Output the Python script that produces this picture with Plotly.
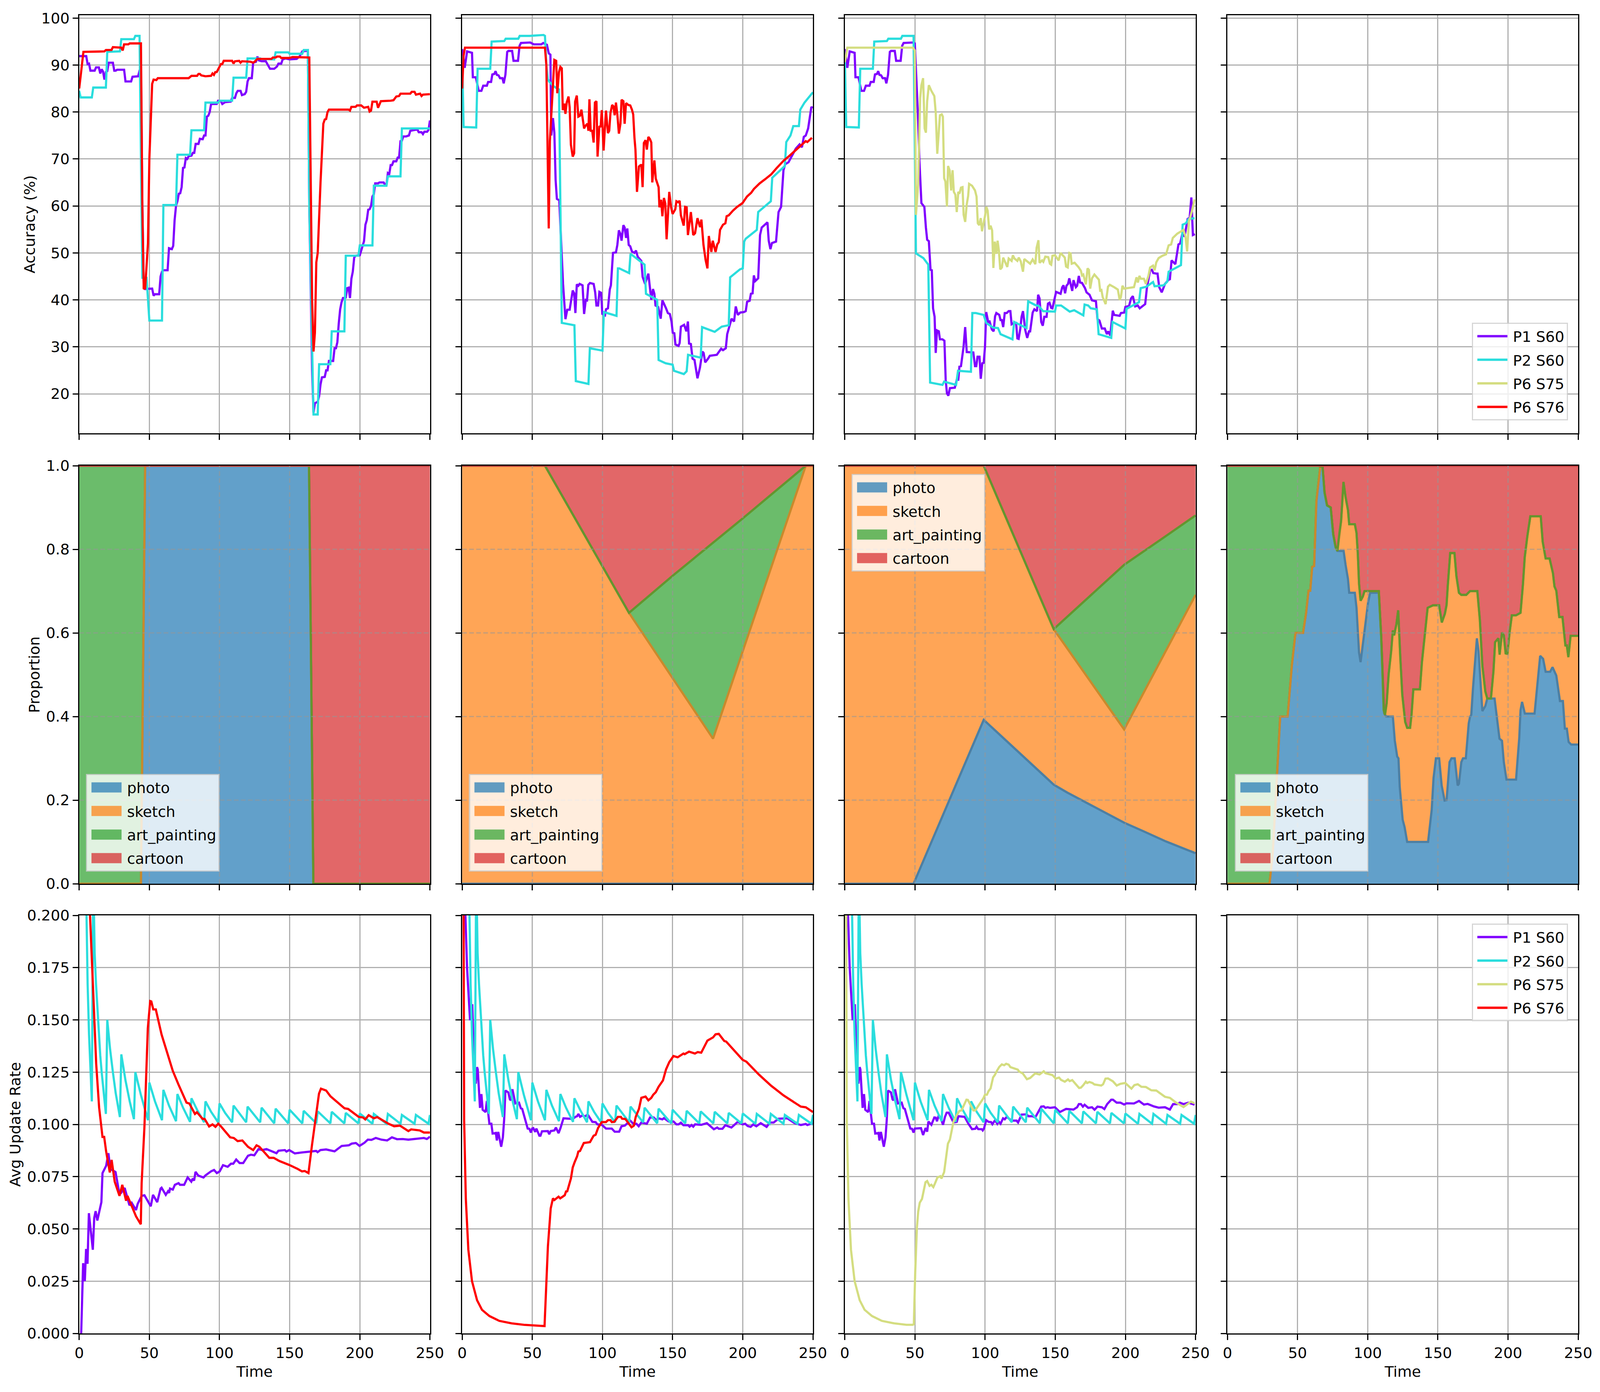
import plotly.graph_objects as go

TIME_TICKS = [0, 50, 100, 150, 200, 250]
ACC_TICKS = [20, 30, 40, 50, 60, 70, 80, 90, 100]
PROP_TICKS = [0.0, 0.2, 0.4, 0.6, 0.8, 1.0]
RATE_TICKS = [0, 0.025, 0.05, 0.075, 0.1, 0.125, 0.15, 0.175, 0.2]
SERIES_NAMES = ["P1 S60", "P2 S60", "P6 S75", "P6 S76"]
DOMAIN_NAMES = ["photo", "sketch", "art_painting", "cartoon"]

# ---------- Accuracy, scenario A ----------
acc_p1_a = [(0,91.9),(5,91.9),(6,90.2),(7,90.3),(8,88.8),(11,88.8),(12,89.5),(14,89.5),(15,88.2),(16,89.1),(17,88.6),(18,86.9),(19,88.5),(20,88.7),(21,90.5),(24,90.5),(25,88.8),(26,88.8),(27,89),(32,89),(33,86.5),(37,86.5),(38,87.5),(42,87.6),(43,88.8),(44,88.8),(45,60),(46,42.6),(47,42.3),(52,42.4),(53,40.9),(54,41.2),(57,41.2),(58,45),(59,46),(60,46.3),(63,46.3),(64,51),(66,50.8),(67,51.5),(68,57),(69,60),(70,61),(71,62.6),(72,62.7),(73,64),(74,68.1),(75,68.2),(76,70.2),(77,70),(78,70.6),(80,70.7),(81,71.3),(82,71.3),(83,73.2),(85,73.2),(86,74.3),(88,74.2),(89,75),(90,75),(91,79),(92,79.2),(93,80),(94,81.7),(98,81.7),(99,82.4),(101,82.3),(102,81.7),(104,82.1),(108,82.2),(109,83),(111,83),(112,84),(113,84.5),(115,84.5),(116,83.6),(118,83.8),(119,84.3),(120,86.5),(121,87.2),(123,87.2),(124,90.5),(126,90.7),(127,91.8),(128,91),(130,90.8),(133,90.8),(134,90.2),(136,89.2),(139,89.2),(141,89.7),(142,90.3),(144,90.3),(145,91.2),(147,91.4),(150,91.2),(155,91.3),(157,91.8),(159,92.9),(162,93),(163,93.1),(164,60),(166,25),(167,16),(168,18),(170,18.3),(171,19.5),(172,22),(173,23.5),(175,23.6),(176,25),(177,25),(178,27),(181,27),(182,29.7),(183,29.7),(184,31),(185,35),(186,38),(187,39.5),(188,40.4),(190,40.5),(191,42.5),(192,42.6),(193,40.4),(194,44.5),(195,46),(196,49),(197,49.4),(200,49.5),(201,50.5),(202,51.5),(203,52.5),(204,56),(205,57),(206,59.2),(207,59.3),(208,60),(209,62),(210,62.5),(211,64.8),(213,64.8),(214,65),(217,65),(218,64.5),(219,64.5),(220,67),(221,66.8),(222,68.7),(223,68.7),(224,69.5),(226,69.5),(227,70.3),(228,70.3),(229,73.8),(230,73.9),(231,74.8),(233,74.8),(235,75),(236,76),(240,76.2),(241,76.3),(242,75.7),(244,75.7),(245,75.3),(246,75.8),(248,75.8),(249,76.2),(250,78.2)]
acc_p2_a = [(0,84.5),(1,83.1),(9,83.1),(10,85.2),(19,85.2),(20,92.8),(29,92.9),(30,95.5),(39,95.5),(40,96.2),(43,96.2),(44,70),(45,44.7),(48,44.7),(50,35.6),(59,35.6),(60,60.2),(69,60.2),(70,70.9),(79,70.9),(80,76.1),(89,76.1),(90,82),(99,82),(100,82.4),(109,82.4),(110,87.3),(119,87.3),(120,91.4),(129,91.4),(130,91.3),(139,91.2),(140,92.7),(149,92.7),(150,92.4),(159,92.4),(160,93.2),(163,93.2),(164,60),(166,30),(167,15.6),(170,15.6),(171,26.3),(179,26.3),(180,33.3),(189,33.3),(190,49.4),(199,49.4),(200,51.6),(209,51.6),(210,64.3),(219,64.3),(220,66.3),(229,66.3),(230,76.5),(250,76.5)]
acc_p6b_a = [(0,85),(3,92.8),(18,92.9),(19,93.2),(23,93.2),(24,93.8),(30,93.7),(31,93.1),(32,94.4),(35,94.4),(36,94.6),(44,94.6),(45,60),(46,42.3),(47,42.5),(48,47),(49,52),(50,70),(51,78),(52,86),(53,86.9),(55,86.8),(56,87.2),(78,87.2),(80,87.7),(84,87.7),(85,88.1),(86,88.1),(87,87.8),(90,87.6),(94,87.7),(95,88.2),(96,87.9),(97,88.5),(98,88.5),(100,89.7),(101,90.2),(102,90.2),(103,90.9),(109,90.9),(110,90.3),(111,90.8),(114,90.9),(115,90.5),(116,90.8),(122,90.7),(124,90.5),(125,90.7),(127,91.3),(137,91.3),(138,91.6),(140,91.6),(141,91.8),(143,91.8),(144,91.5),(150,91.5),(152,91.7),(164,91.6),(165,60),(166,40),(167,29),(168,33),(169,48),(170,50),(172,65),(173,72),(174,77.5),(175,78.4),(176,78.5),(177,80),(178,80.5),(192,80.5),(193,80.3),(194,81.1),(197,81.1),(198,81.4),(201,81.4),(203,80.9),(206,81.1),(207,80.1),(208,80.3),(209,82.2),(212,82.2),(213,80.9),(215,82.3),(222,82.4),(224,82.5),(226,83.3),(228,83.4),(229,83.9),(236,83.9),(237,84.3),(239,84.3),(240,83.7),(243,83.9),(244,83.4),(245,83.7),(250,83.8)]

# ---------- Accuracy, shared start of scenarios B and C ----------
acc_p1_head = [(0,93.4),(1.8,89.4),(3.5,92.9),(7,92.6),(7.6,87.4),(9.7,87.4),(11.8,84.5),(13.7,84.5),(15,85.6),(17.6,85.6),(18.5,86.4),(20.6,86.4),(21.5,88),(22.9,88.1),(23.8,88.7),(24.7,87.9),(25.9,87.8),(27,87.2),(28.7,87.2),(29.6,86.1),(30.8,87.9),(32.1,92.8),(32.9,93),(35.6,93),(36.6,90.9),(39.8,90.9),(40.9,94.1),(41.9,94.7),(48.5,94.8)]
acc_p2_head = [(0,92),(1,76.8),(10,76.7),(11,89.2),(20,89.2),(21,95),(30,95.1),(31,95.6),(40,95.6),(41,96.2),(48,96.2)]

acc_p1_b = acc_p1_head + [(51,94.4),(56.4,94.4),(57.8,94.7),(60.4,94.3),(61.7,92.5),(62.9,92.2),(63.5,75),(64.7,78.7),(65.7,75.6),(66.6,65.5),(67.5,61.5),(69.2,61.2),(70.5,51.7),(71.9,43.4),(73.6,35.9),(74.9,37.9),(76.6,37.9),(78.8,42),(79.8,41.4),(80.7,37.2),(81.7,43.3),(82.8,43),(83.7,43.4),(85.8,43.1),(86.9,37),(88.1,40),(89,39.9),(89.9,43.2),(91.1,43.6),(93.7,43.4),(94.8,41.6),(95.7,38.8),(96.9,38.8),(97.8,41.7),(99,41.5),(99.9,37),(101.8,36.7),(102.5,38),(103.9,38.2),(105.2,42.2),(106,43.1),(107.5,50),(109.6,50.1),(110.6,51.7),(111.7,54.8),(112.8,54),(113.6,52.6),(114.9,55.9),(115.8,55.4),(116.8,53.2),(117.7,55.2),(118.7,51.7),(119.8,51.4),(121,50.3),(122.8,50),(123.9,50.5),(125.1,49.2),(127.7,48.3),(128.6,44.9),(130.4,43.4),(132.7,45.6),(134.8,40),(136,42.3),(137,41.3),(137.8,38.8),(139.7,38.5),(141.5,36),(142.7,39.9),(145.3,38.2),(146.6,37.2),(148,37),(149.2,35.4),(150.1,33),(151.2,32.9),(152,30.5),(154.2,30.2),(155,30.8),(155.9,34.3),(158.2,34.7),(159.8,33.3),(160.9,35.4),(161.7,30.7),(163,30.6),(164.2,27.5),(165.6,27.2),(167.7,23.3),(169.5,25.6),(171.2,29),(172.1,28.7),(173.2,26.7),(175.3,27.5),(176.5,28.1),(181.5,28.3),(182.9,28.9),(184.6,29.6),(185.9,29.3),(187.9,29.7),(188.9,32.7),(190.3,34.4),(192,36),(193.8,35.4),(195,38.6),(196.5,36.8),(198.2,37.3),(200.8,37.4),(202.1,37.6),(203.1,39.6),(204.9,39.8),(205.8,41.3),(207,41.4),(207.9,45.2),(208.9,44),(211,44.6),(212.3,53.8),(213.5,55.4),(217.6,56.5),(218.5,52.6),(219.7,50.8),(220.8,52.1),(223.7,52.4),(225.5,58.7),(227.3,59.8),(229,67.6),(230.3,68.9),(232.6,69.3),(235.2,70.7),(237.8,72.2),(240.5,73.1),(242.2,72.5),(243.5,74.7),(244.9,75),(246.6,76.5),(248.1,79.9),(248.9,81.1),(249.8,80.8)]
acc_p2_b = acc_p2_head + [(58,96.4),(59,96.2),(60,90),(61,87),(62,86.5),(65,85.5),(69,84.8),(70,60),(71,35.1),(80,34.6),(81,22.7),(90,22.1),(91,29.7),(100,29.2),(101,37.4),(110,36.6),(111,46.7),(112,46.7),(119,45.7),(120,49.8),(130,47.5),(131,41.3),(139,40),(140,27.2),(145,26.5),(150,26.2),(151,24.9),(158,24.2),(160,24.8),(161,28.3),(170,27.7),(171,34.2),(180,33.2),(185,34.3),(190,34.6),(191,44.8),(198,46.5),(200,46.7),(201,52.4),(202,53),(210,54.9),(211,58.7),(220,61),(221,66),(230,68.5),(231,73.6),(234,75),(236,77),(240,77),(241,80.5),(244,82),(250,84.2)]
acc_p6b_b = [(0,85),(1,92),(2,93.7),(59,93.7),(60,90),(61.7,55.2),(62.5,73.8),(65.7,91.1),(67,90.9),(67.8,84),(69,88.5),(70,89.6),(71,89.3),(71.7,80.4),(72.8,81.8),(73.6,79.6),(74.5,82),(75.8,83.3),(76.6,81),(77.5,73),(78.8,70.5),(79.8,71.2),(80.5,82.2),(81.7,83.5),(82.8,79),(84,79.2),(85,80.5),(86,78),(86.9,76.5),(87.7,77),(89.3,77.5),(90,76),(90.7,82.7),(91.6,76),(92.7,76),(93.7,73.5),(94.6,82),(95.7,82.3),(96.5,70.5),(97.8,77),(98.7,76.8),(99.5,80.4),(100.8,71.8),(101.8,77),(102.5,80.3),(103.9,75.5),(104.8,76),(105.7,79.8),(106.9,81.5),(107.8,81.2),(108.7,79.3),(109.6,82),(110.6,79.5),(111.7,75.4),(112.8,77.5),(113.6,82.6),(114.9,82.3),(115.8,77.5),(116.8,81.9),(118.4,81.5),(119.8,81.4),(121,80.5),(121.9,79.5),(122.8,74.5),(123.5,72),(124.6,63),(126,68.4),(127.2,68.7),(127.7,68.7),(128.6,64),(129.5,73.4),(130.7,74),(131.6,72),(132.7,74.7),(133.9,74.2),(134.8,73.5),(135.5,65),(137,69.7),(138,65.8),(140,64),(140.6,59.7),(141.8,61.3),(142.7,57.8),(143.8,61.7),(144.8,60.5),(145.7,52.9),(147.6,63),(148.9,59.7),(150,58.3),(151.9,59.3),(152.7,61),(154,60.8),(155,61.1),(155.9,58),(157.9,55.8),(158.9,59.8),(160,59.7),(160.9,53.8),(163,58.7),(164.7,53.8),(166,54.2),(167.7,57.4),(169.5,55.5),(170.5,57.1),(172,51.7),(173.5,48.5),(174.8,46.7),(175.8,53.6),(177.6,50.2),(178.6,52.6),(180.6,50.2),(181.8,51.8),(182.9,52.3),(183.8,54.9),(185.9,56),(187.6,56.3),(188.5,57.8),(190,58),(193,59),(196,59.8),(199.8,60.6),(203,62),(206,62.8),(207.9,63.6),(212,64.8),(216,65.7),(220.2,66.7),(224,68),(229,69.6),(233,70.6),(237.9,71.9),(241,72.8),(244.9,73.8),(246,73.6),(249.3,74.5)]

# ---------- Accuracy, scenario C ----------
acc_p1_c = acc_p1_head + [(49.9,94.6),(52.3,78),(53.2,69.5),(54.6,60.6),(56.7,59.8),(57.8,55.4),(58.7,52.8),(59.9,52.5),(61.1,46.4),(62,46.3),(62.9,38.2),(64,36.4),(64.8,28.7),(65.7,33.5),(67,33.3),(67.8,31.6),(69.6,31.6),(71,31.3),(71.9,23),(72.8,20.1),(73.8,19.6),(74.9,21.2),(78.4,21.3),(79.8,23),(80.9,23),(81.7,25.8),(82.8,25.9),(84.6,29.9),(85.8,34.2),(86.9,28.9),(91.6,28.8),(92.8,25.9),(93.7,25.9),(94.6,27.9),(96,27.9),(96.9,23.2),(98,26.5),(99,26.6),(99.9,29.9),(100.8,37.4),(102.2,35.3),(103.2,35.4),(104.8,33.7),(106.1,33.3),(107.1,36.5),(108,37.2),(110.1,36.8),(111,35.7),(111.9,35.7),(112.9,34.2),(114,37.2),(115.4,37.2),(116.8,37.6),(118,37.6),(118.9,34.8),(120.7,35.1),(122.1,35.1),(123,31.8),(123.9,31.7),(125.1,33.9),(126,36.4),(127,37.6),(128.6,33.6),(130,31.9),(131.3,33.3),(132.1,33.3),(133.9,37.3),(135.1,38),(137,37.6),(137.8,41.1),(138.8,40.3),(140,35.3),(141.1,34.5),(142.2,36.4),(143.8,36.4),(144.8,39.2),(145.9,39.4),(147.1,38.3),(148,38.2),(150.6,41.7),(153.8,41.3),(155,42.7),(155.9,43.1),(157,41.4),(158,43),(159.1,43.4),(160,44.6),(162.1,41.9),(163,44.2),(164.7,42.7),(165.6,43),(166.8,45.1),(167.7,43.7),(169.1,43.6),(171.2,42.5),(172.3,41.6),(174.4,41.1),(176.2,39.9),(179,39.7),(180.1,35.9),(181.5,35.6),(183.2,33.9),(185.3,33.9),(186.8,32.7),(187.8,33.3),(189.2,32.4),(191,37.7),(192,36.8),(194.6,36.7),(195.9,36.6),(196.8,37.2),(199.1,37.3),(200,38.5),(202.6,38.7),(204,40.3),(205.3,40.8),(207,38.6),(208.8,38.8),(210.2,38.2),(214.1,39.1),(215.3,42.5),(217.6,46.3),(218.8,46.4),(219.9,45.7),(222,45.6),(222.9,45.6),(224.1,42.7),(225.9,41.6),(228.2,43.4),(230.8,44.3),(231.7,44.4),(232.9,48.4),(235.6,47.6),(236.6,49.8),(237.8,51.8),(239,52),(240.5,54),(242.2,53.5),(244.3,57.2),(245.8,57.5),(247,61.8),(248.1,53.8),(249.5,54)]
acc_p2_c = acc_p2_head + [(49,96.2),(50,70),(50.7,49.9),(56,48.9),(59.5,47.5),(60.8,22.4),(63.8,22.2),(69.6,21.9),(70.8,22.6),(79.3,21.9),(80.7,24.9),(89.9,24.7),(90.9,37.2),(93.4,37.2),(99,36.8),(100.8,35.1),(105.7,34.1),(109.2,34),(111,32.7),(119.5,31.6),(120.7,35.3),(129.5,34),(130.7,39.7),(135.7,38.9),(138.3,38.7),(141.3,37.6),(149.8,37.5),(150.6,38.8),(154.2,38.8),(160.3,37.5),(163.5,37.8),(170,36.7),(170.9,39),(173.5,38.8),(175.3,38.2),(179.7,38),(180.9,32.7),(189.9,31.9),(190.8,35.3),(200,33.9),(200.8,38.1),(209.7,39.5),(210.9,42.5),(214.9,42.8),(219.7,43.8),(220.8,42.9),(227.3,43.1),(229.9,43.9),(230.8,46),(239.6,47.4),(240.8,56),(243.1,56.3),(244.9,57.2),(249.3,57.4)]
acc_p6a_c = [(0,90.6),(1.8,93.7),(48.5,93.7),(49.9,93.1),(50.7,58.1),(52.3,64.6),(53.7,83),(54.6,85.7),(55.8,87.2),(56.9,76.5),(57.8,75.6),(58.7,82.3),(59.9,85.7),(61.7,84.5),(63.8,83.4),(64.8,79.9),(65.9,71.1),(67.8,79.3),(69.1,79.5),(69.9,79),(70.8,65.9),(71.7,65.2),(72.8,59.9),(73.6,68.5),(74.7,67.6),(75.8,63.3),(76.8,67.6),(77.7,63),(78.8,62.4),(79.8,58.7),(80.9,63),(81.7,62.6),(82.8,63.9),(83.9,64),(84.7,58.1),(85.8,56.6),(86.9,60.3),(87.9,62.1),(88.6,64.7),(90.7,64.3),(92.8,63.3),(93.9,62),(94.8,56.3),(95.8,55.9),(96.9,57.4),(97.8,54.6),(99.9,57.8),(100.9,59.8),(101.8,59),(102.9,55),(103.9,55.8),(105,54.8),(105.9,46.8),(106.9,52.4),(108,49.8),(108.9,52.6),(109.8,50.5),(110.8,46.5),(112,46.9),(112.9,49),(115.8,47),(116.8,48.8),(118.9,48.3),(119.8,49.5),(120.9,48.8),(123,48.3),(124,49),(125.4,48.2),(127,46),(127.9,48.7),(132.1,47.7),(133.9,48.6),(135.8,47.6),(136.7,51.1),(138,52.7),(138.8,47.9),(140.6,48.4),(141.5,48.1),(142.9,49.2),(145,49.1),(146.2,47.7),(147.1,47.5),(148,49.4),(149.8,49.5),(152.4,48.4),(153.8,50),(156.8,49),(157.7,47.1),(158.9,46.9),(160,50),(160.9,49.9),(161.7,47.7),(163.8,47.9),(166.5,47),(168.3,46.2),(169.1,45.2),(170,45.4),(171.8,43.3),(173,46.7),(174,46.4),(174.9,42.4),(176.2,44.6),(177.9,45.4),(181.1,44.3),(182,42),(182.9,42.1),(183.8,40.6),(185.9,39.1),(187.6,42.8),(188.9,43.2),(192,42.7),(194.6,42.2),(195.9,40),(196.8,40.6),(197.9,43),(199.1,42.4),(206.1,42.7),(207.9,44.8),(208.9,43.7),(210,45.1),(211,44.5),(213.2,44.5),(214.6,43.4),(216.4,45.1),(217.6,46.9),(219.7,47.3),(220.8,46.3),(222,48),(223.7,48.9),(226.4,49.4),(229,49.7),(230.8,51.6),(232.6,51.8),(233.8,53.2),(237,54.1),(241.4,54.9),(242.8,53.5),(244,50.3),(245.2,56.6),(247.5,59),(249.3,61.4)]

# ---------- Domain proportions: upper edge of each stacked band ----------
band_photo_a = [(0,0),(44,0),(47,1),(163.8,1),(166.9,0),(250,0)]
band_sketch_a = band_photo_a
band_art_a = [(0,1),(47,1),(163.8,1),(166.9,0),(250,0)]

band_photo_b = [(0,0),(250,0)]
band_sketch_b = [(0,1),(59,1),(118.9,0.648),(178.8,0.347),(244.9,1),(250,1)]
band_art_b = [(0,1),(59,1),(118.9,0.648),(149.8,0.736),(200,0.874),(244.9,1),(250,1)]

band_photo_c = [(0,0),(49,0),(99,0.392),(148.9,0.237),(158.6,0.218),(199.1,0.146),(213.2,0.125),(229,0.101),(250,0.073)]
band_sketch_c = [(0,1),(99,1),(148.9,0.609),(199.1,0.369),(250,0.691)]
band_art_c = [(0,1),(99,1),(148.9,0.609),(199.1,0.763),(229,0.832),(250,0.881)]

band_photo_d = [(0,0),(30,0),(32.3,0.073),(34,0.177),(35.8,0.308),(37,0.363),(37.6,0.4),(42.9,0.4),(44.1,0.453),(45.9,0.522),(48.5,0.6),(53.9,0.6),(56,0.646),(57.8,0.701),(59,0.701),(60.4,0.758),(61.8,0.76),(63.4,0.915),(64.8,0.957),(66.2,0.998),(67.8,0.998),(69.2,0.936),(71,0.905),(73.6,0.9),(75.4,0.836),(77.1,0.805),(78.4,0.796),(82.8,0.796),(84.2,0.763),(85.9,0.729),(86.8,0.696),(90.8,0.696),(92,0.66),(93.8,0.553),(94.9,0.53),(96.5,0.57),(98.6,0.625),(100.3,0.674),(101.7,0.696),(107.9,0.696),(109.6,0.591),(110.5,0.515),(111.7,0.408),(113.1,0.4),(117.9,0.4),(119.3,0.342),(121,0.304),(121.9,0.3),(122.8,0.232),(124.9,0.153),(126.3,0.135),(128.1,0.1),(143,0.1),(145.6,0.177),(146.9,0.253),(148.6,0.3),(150.9,0.3),(152.7,0.235),(154.8,0.199),(156.2,0.2),(158.3,0.291),(159.7,0.3),(162,0.3),(164.1,0.235),(165,0.239),(166.7,0.291),(167.9,0.3),(169.9,0.3),(172,0.384),(172.9,0.399),(173.8,0.404),(175,0.467),(177.8,0.587),(179,0.556),(181.7,0.413),(183.8,0.425),(185.2,0.443),(190.4,0.443),(192.2,0.398),(193.9,0.347),(195.7,0.342),(197,0.291),(198.9,0.249),(205.7,0.249),(208,0.349),(208.9,0.415),(210,0.435),(212,0.407),(218.9,0.407),(220.3,0.453),(221.7,0.494),(222.9,0.545),(225,0.538),(226.8,0.507),(230,0.507),(231.7,0.518),(234.4,0.498),(236.1,0.463),(237,0.437),(239.1,0.437),(240.5,0.371),(241.9,0.371),(243.2,0.339),(245,0.333),(250,0.333)]
band_sketch_d_tail = [(79.8,0.839),(81,0.867),(81.9,0.915),(82.7,0.961),(84.2,0.925),(85.9,0.894),(86.8,0.86),(90.8,0.86),(92,0.839),(92.9,0.791),(93.8,0.718),(94.9,0.677),(96.5,0.687),(97.7,0.7),(107.9,0.7),(109.6,0.591),(110.5,0.508),(111.4,0.415),(112.3,0.404),(113.5,0.432),(114.9,0.501),(116.7,0.556),(117.9,0.606),(118.8,0.594),(120.5,0.622),(121.7,0.654),(123.2,0.542),(124.6,0.453),(126.7,0.387),(128.1,0.373),(130.2,0.373),(131.2,0.404),(132.5,0.465),(137.2,0.465),(138.6,0.529),(140.7,0.591),(142.7,0.66),(146.5,0.666),(150.9,0.666),(151.8,0.646),(152.8,0.625),(155,0.646),(156.2,0.667),(157.1,0.715),(158.8,0.791),(161.8,0.791),(163.2,0.736),(165,0.696),(166.7,0.691),(170.2,0.691),(172.9,0.7),(178.1,0.7),(179.9,0.632),(181.7,0.522),(183.8,0.46),(185.2,0.443),(187.8,0.443),(189.6,0.508),(190.8,0.578),(193.1,0.587),(194,0.548),(195.7,0.601),(197,0.594),(198.3,0.551),(199.6,0.55),(201,0.598),(202.7,0.642),(205.7,0.642),(208.9,0.648),(210.6,0.715),(211.9,0.781),(213.8,0.832),(215.9,0.879),(223.3,0.879),(224.7,0.818),(226.8,0.778),(229.6,0.778),(232,0.743),(233.1,0.711),(234.4,0.701),(236.5,0.638),(238.8,0.638),(240.9,0.57),(241.9,0.57),(243,0.542),(244.6,0.593),(250,0.593)]
band_sketch_d = [p for p in band_photo_d if p[0] <= 78.4] + band_sketch_d_tail
band_art_d = [(0,1),(64.8,1)] + [p for p in band_sketch_d if p[0] >= 66.2]
band_cartoon = [(0,1),(250,1)]

# ---------- Average update rate ----------
rate_p2 = [(1,1.0),(2,0.5),(3,0.33),(4,0.25),(5,0.2),(6,0.167),(7,0.143),(8,0.125),(9,0.111),(10,0.222),(11,0.182),(12,0.167),(13,0.154),(14,0.143),(15,0.133),(16,0.125),(17,0.118),(18,0.111),(19,0.105),(20,0.15),(22,0.136),(24,0.125),(26,0.115),(29,0.1035),(30,0.1335),(33,0.121),(36,0.111),(39,0.1025),(40,0.125),(44,0.114),(49,0.102),(50,0.12),(54,0.111),(59,0.102),(60,0.1165),(64,0.109),(69,0.1015),(70,0.1145),(74,0.108),(79,0.1012),(80,0.1125),(84,0.107),(89,0.101),(90,0.111),(94,0.106),(99,0.101),(100,0.11),(104,0.1055),(109,0.101),(110,0.109),(119,0.101),(120,0.1085),(129,0.101),(130,0.108),(139,0.1005),(140,0.1075),(149,0.1005),(150,0.107),(159,0.1005),(160,0.1065),(169,0.1005),(170,0.1062),(179,0.1005),(180,0.106),(189,0.1005),(190,0.1055),(199,0.1005),(200,0.1052),(209,0.1003),(210,0.105),(219,0.1003),(220,0.105),(229,0.1003),(230,0.1045),(239,0.1003),(240,0.1045),(249,0.1003),(250,0.1045)]

rate_p1_a = [(1.4,0),(2.8,0.0336),(4,0.025),(4.9,0.0404),(5.9,0.0333),(6.9,0.0575),(9.7,0.04),(10.7,0.0552),(11.7,0.0585),(12.9,0.054),(15.8,0.0628),(16.6,0.0767),(19.2,0.0802),(20.8,0.0862),(22.2,0.0787),(25.9,0.0772),(28.3,0.0681),(29.9,0.0673),(32.4,0.0696),(35.8,0.0613),(37.4,0.0625),(40.5,0.059),(41.7,0.062),(44.5,0.0658),(46.5,0.0661),(51,0.0608),(52.6,0.0663),(55.6,0.0628),(58,0.0693),(58.7,0.0697),(61.7,0.0663),(63.3,0.068),(64.1,0.0672),(64.7,0.0693),(66.7,0.0688),(68.2,0.0711),(70.8,0.0719),(71.8,0.0711),(74.8,0.0711),(77.3,0.0746),(79.9,0.0726),(80.9,0.0741),(81.9,0.0731),(82.9,0.0773),(84.9,0.0755),(88.6,0.0746),(90,0.0756),(91,0.0761),(94.1,0.0776),(96.1,0.0782),(98.1,0.0767),(100.1,0.0775),(102.5,0.0805),(105.8,0.0797),(108.2,0.0812),(109.8,0.0812),(111.9,0.0832),(114.3,0.0815),(116.9,0.0815),(120.3,0.085),(122.4,0.0855),(124.8,0.0852),(127.8,0.0882),(130.5,0.0877),(133.5,0.0882),(140.6,0.0862),(142,0.0874),(146.6,0.0877),(147.7,0.087),(149.7,0.0877),(153.7,0.0861),(157.8,0.0865),(160.8,0.0867),(168.9,0.0873),(169.9,0.0867),(171.9,0.0877),(176,0.088),(182,0.0871),(187.1,0.0897),(192.2,0.09),(194.2,0.0908),(197.2,0.0911),(199.8,0.0897),(203.3,0.0912),(205.7,0.0927),(208.3,0.0926),(211.4,0.0935),(215.4,0.0927),(219.5,0.0923),(222.9,0.0938),(226.5,0.0929),(230.6,0.093),(234.6,0.0927),(245.7,0.0935),(247.8,0.093),(250,0.0941)]
rate_p6b_a = [(1,1.0),(4,0.37),(6,0.26),(7.7,0.2),(10.1,0.158),(12.1,0.129),(14.2,0.108),(15.8,0.099),(16.6,0.094),(17.8,0.094),(19.2,0.087),(21.8,0.077),(23.1,0.083),(25.3,0.0726),(28.7,0.0658),(30.7,0.0711),(33.4,0.0635),(34.4,0.0658),(38.4,0.059),(40.5,0.056),(43.9,0.0522),(44.5,0.0719),(46.5,0.099),(48.1,0.132),(48.9,0.146),(50.6,0.159),(51.4,0.1588),(52.8,0.155),(54.6,0.155),(58.7,0.143),(62.7,0.134),(66.7,0.1256),(70.8,0.119),(76.5,0.1104),(78.5,0.11),(82.5,0.105),(83.9,0.1058),(88,0.1026),(89.4,0.1026),(92.6,0.099),(95,0.1),(97.1,0.0988),(99.1,0.1003),(101.1,0.099),(107.6,0.0938),(110.2,0.0935),(112.9,0.092),(116.3,0.0923),(120.3,0.0893),(124,0.0877),(126.4,0.09),(128.4,0.0893),(135.5,0.084),(138.6,0.084),(142.6,0.0825),(149.7,0.0806),(155.7,0.0787),(158.8,0.0775),(160.8,0.0777),(163.4,0.0767),(165.9,0.09),(170.9,0.1147),(172.3,0.1171),(176,0.1162),(179,0.1135),(189.1,0.1077),(191.7,0.1074),(199.2,0.1036),(202.3,0.1033),(203.9,0.1024),(206.3,0.1044),(210,0.1029),(212.4,0.1035),(220.5,0.1003),(224.5,0.0991),(228.6,0.0994),(234.6,0.0968),(236.6,0.0976),(242.7,0.0971),(245.7,0.0961),(250,0.0961)]

rate_p1_head = [(1.5,0.5),(2.3,0.2),(3.5,0.1747),(5.3,0.1498),(5.6,0.1498),(6.7,0.157),(7.2,0.157),(8.3,0.1324),(9.7,0.1195),(10.6,0.1274),(11.1,0.1263),(12.7,0.1079),(13.7,0.1145),(14.6,0.107),(16.7,0.1059),(17.6,0.1112),(18.5,0.1051),(19.4,0.1003),(20.8,0.1003),(21.7,0.0956),(24,0.0959),(24.7,0.0923),(25.7,0.0964),(27.8,0.0893),(29,0.0938),(29.9,0.1021),(30.8,0.1162),(32.9,0.1153),(34,0.112),(34.7,0.1115),(35.8,0.1168),(37.9,0.11),(40.5,0.1104),(41.8,0.1077),(42.8,0.1074),(46.7,0.098),(47.9,0.0979),(49,0.0961),(49.9,0.098)]
rate_p1_b = rate_p1_head + [(50.7,0.0982),(52,0.0964),(52.9,0.098),(55,0.0946),(55.8,0.0946),(56.9,0.0967),(61.1,0.0968),(62,0.0953),(63.1,0.0968),(65.7,0.0971),(66.8,0.0985),(68.7,0.0958),(70.1,0.0983),(72.2,0.1029),(78.8,0.1026),(80.7,0.1036),(81.9,0.1039),(82.8,0.105),(84,0.1036),(85.5,0.1042),(87.7,0.1039),(89.5,0.1047),(92.8,0.1012),(95.1,0.1011),(96.4,0.1),(99.5,0.0998),(102.5,0.098),(106.6,0.098),(108.7,0.0965),(111.9,0.0965),(113.6,0.0991),(115.9,0.0994),(119.8,0.1018),(122.4,0.1),(124.2,0.1003),(125.8,0.0991),(127.7,0.1009),(131.6,0.1003),(133.9,0.1033),(136.5,0.1033),(138.3,0.1021),(140,0.1029),(142.7,0.1024),(143.8,0.103),(147.1,0.1014),(150.6,0.1014),(152.7,0.1),(154.2,0.1),(155.9,0.1008),(157.7,0.0996),(161.2,0.0996),(162.1,0.0989),(163.5,0.0997),(164.7,0.0989),(166,0.1),(170.4,0.0998),(174.4,0.1006),(179.4,0.0977),(181.8,0.0985),(182.9,0.0979),(185.5,0.0979),(187.6,0.0996),(191.9,0.0985),(196.4,0.1012),(199.9,0.1),(201.7,0.1003),(203.5,0.0992),(205.6,0.0988),(207.5,0.1),(209.7,0.0991),(212.8,0.1006),(217,0.0988),(219.3,0.1009),(222,0.1009),(225.5,0.1027),(231.7,0.1029),(236.9,0.1006),(241.4,0.0997),(244.9,0.1002),(246,0.0997),(250,0.1006)]
rate_p1_c = rate_p1_head + [(54.3,0.0982),(55.8,0.0949),(57.6,0.0983),(58.7,0.0965),(59.6,0.1014),(61.7,0.0998),(63.8,0.1033),(64.8,0.1032),(65.7,0.1015),(67,0.1044),(68.7,0.1024),(70,0.0998),(71.4,0.1036),(72.6,0.1056),(74,0.1056),(77.5,0.1009),(79.8,0.1012),(81,0.1039),(85.4,0.1036),(88.1,0.1003),(90.7,0.0977),(93,0.0979),(93.9,0.0989),(95.1,0.0977),(97.6,0.0977),(98.3,0.0971),(99.2,0.098),(100.8,0.102),(102.5,0.1012),(104.3,0.1011),(105.2,0.1001),(107.1,0.102),(108.7,0.1003),(109.6,0.1014),(111,0.1003),(112.8,0.1029),(114,0.1024),(115.4,0.1036),(118.9,0.1018),(122.4,0.1018),(123.5,0.1009),(126,0.1047),(129.5,0.1048),(130.9,0.1039),(133.9,0.1039),(135.7,0.1033),(137.8,0.1057),(140,0.1085),(141.8,0.1086),(143,0.1079),(144.5,0.1082),(146.2,0.1079),(149.8,0.1082),(153.3,0.1059),(157.7,0.1074),(163,0.1071),(165.6,0.1082),(166.8,0.1097),(168.3,0.1097),(169.7,0.1085),(170.9,0.1094),(173.5,0.1079),(176.2,0.1082),(178,0.107),(180.1,0.1085),(183.2,0.1082),(185,0.1073),(187,0.1097),(189.9,0.1118),(191.1,0.1118),(193.8,0.1104),(196.4,0.1104),(199.1,0.1095),(200.8,0.1101),(206.1,0.11),(209.7,0.1112),(213.2,0.1095),(215.9,0.1098),(220.3,0.1086),(223.7,0.108),(228.2,0.1082),(231.7,0.1071),(234,0.1097),(237,0.1097),(238.8,0.1104),(241.4,0.1097),(244.9,0.1104),(247.5,0.1097),(249.3,0.1094)]

rate_p6_head = [(0,1.0),(0.5,0.5),(1,0.2),(1.4,0.102),(2.6,0.0643),(4.4,0.04),(7,0.025),(10.6,0.0159),(14.1,0.0113),(19.4,0.0083),(26.4,0.006),(35.2,0.0048),(44,0.0041)]
rate_p6b_b = rate_p6_head + [(58.7,0.0035),(59.9,0.0204),(61.1,0.0416),(63.1,0.0598),(64.7,0.0646),(65.7,0.0638),(68.7,0.0654),(69.9,0.0646),(73.1,0.0661),(74,0.0679),(74.9,0.068),(77.5,0.0741),(78.8,0.0794),(80.2,0.082),(81.9,0.0847),(82.8,0.087),(84,0.0873),(86.7,0.0911),(91.1,0.0915),(93.7,0.0946),(95.1,0.095),(96.9,0.0983),(99.5,0.1011),(102.5,0.1011),(103.9,0.102),(105.7,0.102),(106.6,0.1011),(108.4,0.1012),(111,0.1036),(113.1,0.1036),(114,0.1027),(116.3,0.1026),(120.7,0.0986),(122.4,0.0994),(123.7,0.1036),(126,0.1074),(127.7,0.1127),(130.7,0.1133),(132.7,0.1115),(134.8,0.1127),(136.2,0.1142),(138,0.1154),(140,0.118),(143.1,0.121),(145.3,0.1263),(147.6,0.1298),(150.6,0.1327),(153.6,0.1321),(157.7,0.1339),(158.6,0.1336),(161.7,0.1348),(165.9,0.1339),(167.9,0.1346),(170.4,0.1343),(171.8,0.1362),(174.8,0.1401),(178.8,0.1416),(180.6,0.1431),(182.9,0.1433),(186.8,0.1399),(188.2,0.1396),(193.8,0.1354),(199.9,0.1309),(202.6,0.13),(211.4,0.1239),(220.2,0.1185),(229,0.1139),(237.9,0.11),(241.4,0.1085),(244.9,0.1082),(250,0.1059)]
rate_p6a_c = rate_p6_head + [(48.4,0.0041),(49.2,0.0044),(50.2,0.0295),(51.4,0.0507),(52.3,0.0582),(53.4,0.0625),(55,0.0643),(56.4,0.0696),(57.5,0.0723),(58.7,0.0729),(60.4,0.0706),(61.7,0.0711),(63.1,0.07),(64.3,0.0718),(66,0.0746),(68.1,0.0752),(68.9,0.0741),(70.8,0.0772),(72.2,0.0847),(73.5,0.0908),(74.9,0.0927),(76.6,0.0991),(77.5,0.1014),(79.8,0.1044),(81.6,0.1064),(83.2,0.1067),(84.6,0.1089),(86.7,0.1118),(87.7,0.1117),(91.6,0.1067),(93,0.1067),(96.9,0.1104),(98.7,0.1124),(99.9,0.1142),(101.3,0.1142),(102.5,0.116),(103.9,0.1172),(105.7,0.1225),(106.9,0.1236),(108.4,0.1256),(110.1,0.1275),(111.9,0.1287),(113.6,0.1283),(115,0.129),(116.8,0.1286),(118,0.1274),(123.3,0.1262),(124.2,0.1253),(126.8,0.1244),(129.8,0.1216),(132.1,0.1222),(135.7,0.1244),(138.8,0.1239),(141.8,0.1254),(143,0.1245),(148,0.1236),(150.3,0.1219),(152.7,0.1224),(154.1,0.1213),(156.8,0.1204),(159.1,0.1215),(160.3,0.1207),(162.1,0.1212),(167,0.1174),(168.3,0.1176),(170,0.1188),(171.8,0.1204),(172.7,0.1198),(174.4,0.1203),(176.5,0.1198),(177.9,0.1191),(182.8,0.1186),(184.1,0.1192),(185.8,0.1219),(187.6,0.122),(191.1,0.1206),(193.8,0.1186),(196.4,0.1194),(199.9,0.1198),(204.3,0.1171),(206.4,0.1188),(208.8,0.1192),(211.4,0.118),(214.6,0.1179),(218.5,0.1163),(222,0.1162),(228.2,0.1132),(231.7,0.1127),(236.2,0.1104),(241.4,0.1083),(246.7,0.1109),(249.3,0.1101)]

# ---------- Layout: fractions of the reference page, so the figure fills whatever window it gets ----------
W, H = 4767, 3563
COL_LEFT = [236, 1377, 2517, 3657]
COL_W = 1045
ROW_TOP = [39, 1192, 2343]
ROW_H = 1070
FS = 38
LW = 5.6
THIN = 3.2
PURPLE, CYAN, YELLOW, RED = "#8000ff", "#2adddd", "#d4dd80", "#ff0000"
FILL = ["rgba(31,119,180,0.7)", "rgba(255,127,14,0.7)", "rgba(44,160,44,0.7)", "rgba(214,39,40,0.7)"]
EDGE = ["#4d7fa3", "#c98a2c", "#63962f", "#c23a3b"]
FONT = "DejaVu Sans"

fig = go.Figure()


def ax(row, col):
    return row * 4 + col + 1


def ref(prefix, n):
    return prefix + ("" if n == 1 else str(n))


def add_line(row, col, pts, color, name):
    n = ax(row, col)
    fig.add_trace(go.Scatter(x=[p[0] for p in pts], y=[p[1] for p in pts], mode="lines", name=name,
                             line=dict(color=color, width=LW), showlegend=False,
                             xaxis=ref("x", n), yaxis=ref("y", n), hoverinfo="skip"))


def add_legend_lines(row, col, legend):
    n = ax(row, col)
    for nm, c in zip(SERIES_NAMES, [PURPLE, CYAN, YELLOW, RED]):
        fig.add_trace(go.Scatter(x=[None], y=[None], mode="lines", name=nm, line=dict(color=c, width=LW),
                                 legend=legend, legendgroup=legend + nm,
                                 xaxis=ref("x", n), yaxis=ref("y", n)))


# Row 0: accuracy
add_line(0, 0, acc_p1_a, PURPLE, "P1 S60")
add_line(0, 0, acc_p2_a, CYAN, "P2 S60")
add_line(0, 0, acc_p6b_a, RED, "P6 S76")
add_line(0, 1, acc_p1_b, PURPLE, "P1 S60")
add_line(0, 1, acc_p2_b, CYAN, "P2 S60")
add_line(0, 1, acc_p6b_b, RED, "P6 S76")
add_line(0, 2, acc_p1_c, PURPLE, "P1 S60")
add_line(0, 2, acc_p2_c, CYAN, "P2 S60")
add_line(0, 2, acc_p6a_c, YELLOW, "P6 S75")
add_legend_lines(0, 3, "legend")

# Row 1: stacked proportions
bands = [
    (band_photo_a, band_sketch_a, band_art_a, "legend2"),
    (band_photo_b, band_sketch_b, band_art_b, "legend3"),
    (band_photo_c, band_sketch_c, band_art_c, "legend4"),
    (band_photo_d, band_sketch_d, band_art_d, "legend5"),
]
for col, (ph, sk, ar, leg) in enumerate(bands):
    n = ax(1, col)
    tops = [ph, sk, ar, band_cartoon]
    for i, pts in enumerate(tops):
        fig.add_trace(go.Scatter(x=[p[0] for p in pts], y=[p[1] for p in pts], mode="lines", name=DOMAIN_NAMES[i],
                                 fill="tozeroy" if i == 0 else "tonexty", fillcolor=FILL[i],
                                 line=dict(color=EDGE[i], width=LW), showlegend=False,
                                 xaxis=ref("x", n), yaxis=ref("y", n), hoverinfo="skip"))
    for i, nm in enumerate(DOMAIN_NAMES):
        fig.add_trace(go.Scatter(x=[None], y=[None], mode="lines", name=nm,
                                 line=dict(color=FILL[i], width=5), legend=leg, legendgroup=leg + nm,
                                 xaxis=ref("x", n), yaxis=ref("y", n)))
    for v in TIME_TICKS[1:-1]:
        fig.add_shape(type="line", x0=v, x1=v, y0=0, y1=1, xref=ref("x", n), yref=ref("y", n), layer="above",
                      line=dict(color="rgba(150,150,150,0.6)", width=THIN, dash="12px,6px"))
    for v in PROP_TICKS[1:-1]:
        fig.add_shape(type="line", x0=0, x1=250, y0=v, y1=v, xref=ref("x", n), yref=ref("y", n), layer="above",
                      line=dict(color="rgba(150,150,150,0.6)", width=THIN, dash="12px,6px"))

# Row 2: update rate
add_line(2, 0, rate_p1_a, PURPLE, "P1 S60")
add_line(2, 0, rate_p2, CYAN, "P2 S60")
add_line(2, 0, rate_p6b_a, RED, "P6 S76")
add_line(2, 1, rate_p1_b, PURPLE, "P1 S60")
add_line(2, 1, rate_p2, CYAN, "P2 S60")
add_line(2, 1, rate_p6b_b, RED, "P6 S76")
add_line(2, 2, rate_p1_c, PURPLE, "P1 S60")
add_line(2, 2, rate_p2, CYAN, "P2 S60")
add_line(2, 2, rate_p6a_c, YELLOW, "P6 S75")
add_legend_lines(2, 3, "legend6")

layout = {}
Y_CONF = [
    dict(range=[11.6, 100.6], tickvals=ACC_TICKS, tickformat="d"),
    dict(range=[0, 1], tickvals=PROP_TICKS, tickformat=".1f"),
    dict(range=[0, 0.2], tickvals=RATE_TICKS, tickformat=".3f"),
]
Y_TITLES = ["Accuracy (%)", "Proportion", "Avg Update Rate"]
Y_STANDOFF = [5, 5, 5]
for r in range(3):
    for c in range(4):
        n = ax(r, c)
        common = dict(showline=True, mirror=True, linecolor="black", linewidth=THIN, ticks="outside",
                      ticklen=14, tickwidth=THIN, tickcolor="black", gridcolor="#b0b0b0", gridwidth=THIN,
                      showgrid=(r != 1), zeroline=False, automargin=False,
                      tickfont=dict(family=FONT, size=FS, color="black"))
        xa = dict(common, domain=[COL_LEFT[c] / W, (COL_LEFT[c] + COL_W) / W], range=[0, 250], tickvals=TIME_TICKS,
                  anchor=ref("y", n), showticklabels=(r == 2))
        if r == 2:
            xa["title"] = dict(text="Time", font=dict(family=FONT, size=FS, color="black"), standoff=14)
        ya = dict(common, domain=[1 - (ROW_TOP[r] + ROW_H) / H, 1 - ROW_TOP[r] / H], anchor=ref("x", n),
                  showticklabels=(c == 0), **Y_CONF[r])
        if c == 0:
            ya["title"] = dict(text=Y_TITLES[r], font=dict(family=FONT, size=FS, color="black"), standoff=Y_STANDOFF[r])
        layout[ref("xaxis", n)] = xa
        layout[ref("yaxis", n)] = ya


def legend_conf(left_px, top_px):
    return dict(x=left_px / W, y=1 - top_px / H, xanchor="left", yanchor="top",
                bgcolor="rgba(255,255,255,0.8)", bordercolor="rgba(204,204,204,0.8)", borderwidth=THIN,
                font=dict(family=FONT, size=FS, color="black"), itemwidth=92, tracegroupgap=8,
                itemclick=False, itemdoubleclick=False, traceorder="grouped")


layout["legend"] = legend_conf(4385, 826)
layout["legend2"] = legend_conf(256, 1981)
layout["legend3"] = legend_conf(1397, 1981)
layout["legend4"] = legend_conf(2537, 1213)
layout["legend5"] = legend_conf(3679, 1981)
layout["legend6"] = legend_conf(4385, 2364)

fig.update_layout(margin=dict(l=0, r=0, t=0, b=0), autosize=True,
                  paper_bgcolor="white", plot_bgcolor="white", font=dict(family=FONT, size=FS, color="black"),
                  **layout)

# Page margin off, and legend keys as wide bars like the reference's swatches (CSS survives redraws).
POST = """
document.body.style.margin = '0';
var css = document.createElement('style');
css.textContent =
  '.legendlines path { d: path("M11,0h77") !important; stroke-width: 6px !important; }' +
  '.legend2 .legendlines path, .legend3 .legendlines path, .legend4 .legendlines path, .legend5 .legendlines path' +
  ' { stroke-width: 26px !important; }';
document.head.appendChild(css);
Plotly.Plots.resize(document.getElementById('{plot_id}'));
"""
fig.write_html("out.html", post_script=POST, config=dict(displayModeBar=False))
